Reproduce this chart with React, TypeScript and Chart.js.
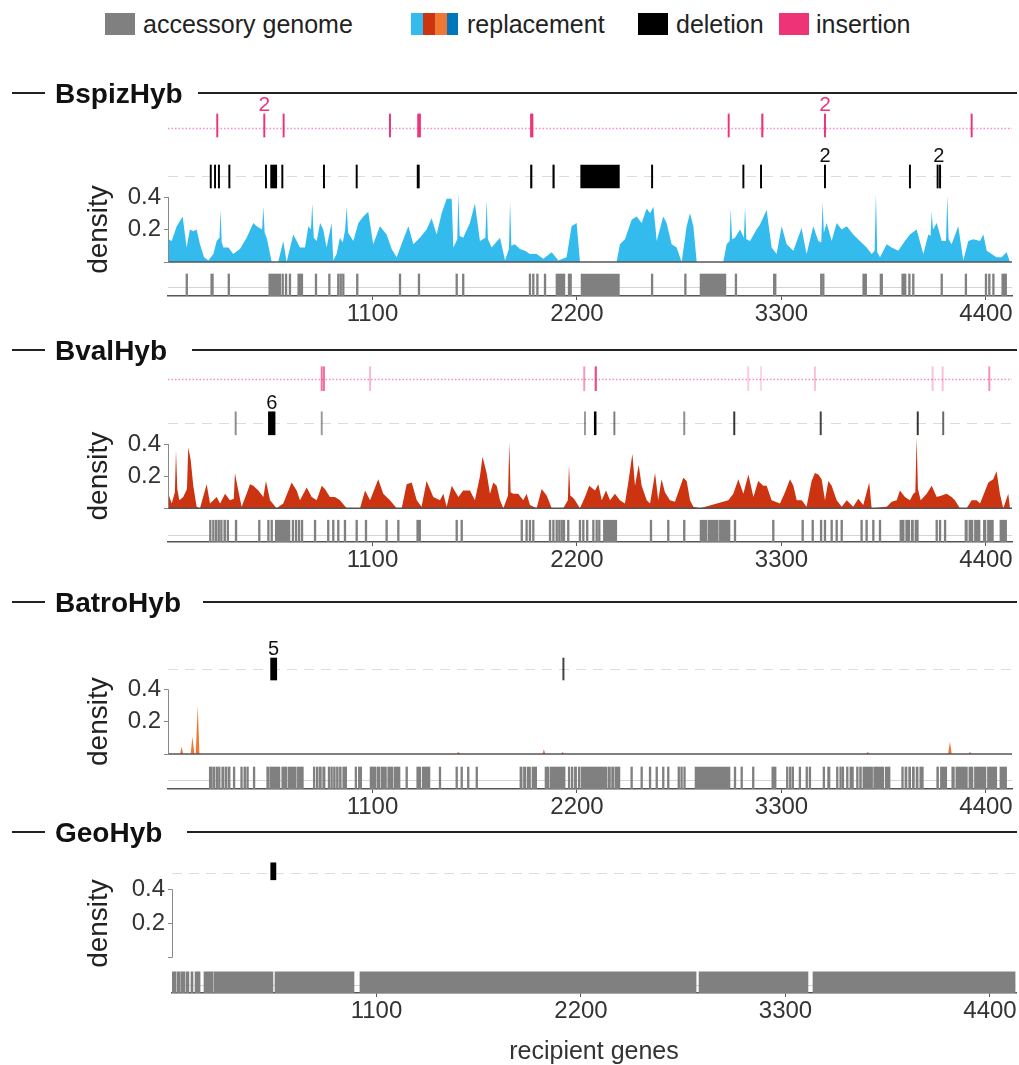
import React, { useEffect, useRef } from "react";
import { Chart, registerables } from "chart.js";

Chart.register(...registerables);

const FONT = "'Liberation Sans', Arial, Helvetica, sans-serif";
const X_MAX = 4540;
const xTickValues = [1100, 2200, 3300, 4400];
const densityTickValues = [0, 0.2, 0.4];

type Interval = [number, number];

// ---------------- BspizHyb ----------------
const bspizDensityGenes = [
  2,20,47,79,100,118,136,154,172,194,
  217,244,262,277,283,289,298,325,351,387,
  423,459,477,506,513,520,531,558,593,620,
  638,674,710,737,755,769,776,784,800,818,
  835,853,880,889,907,925,940,953,961,969,
  997,1024,1051,1077,1104,1140,1176,1203,1230,1266,
  1293,1320,1355,1391,1418,1445,1472,1499,1526,1535,
  1556,1562,1569,1588,1624,1651,1678,1707,1714,1721,
  1741,1786,1813,1834,1840,1847,1866,1893,1920,1947,
  1983,2019,2064,2100,2144,2171,2198,2216,2413,2431,
  2458,2494,2521,2548,2575,2593,2611,2629,2664,2682,
  2709,2736,2763,2790,2808,2826,2844,2987,3005,3021,
  3027,3034,3050,3077,3098,3104,3111,3131,3166,3184,
  3220,3247,3274,3301,3328,3364,3408,3435,3471,3498,
  3514,3521,3528,3543,3570,3597,3624,3651,3686,3722,
  3758,3785,3801,3808,3815,3830,3866,3893,3928,3964,
  3991,4027,4063,4090,4102,4108,4115,4135,4162,4185,
  4192,4199,4215,4251,4278,4305,4332,4368,4386,4404,
  4430,4457,4484,4511,4529,
];
const bspizDensity = [
  0.14,0.13,0.22,0.28,0.09,0.2,0.19,0.2,0.11,0.03,
  0.01,0.05,0.13,0.15,0.32,0.12,0.09,0.09,0.05,0.08,
  0.15,0.24,0.22,0.2,0.34,0.18,0.15,0,0,0.13,
  0,0.17,0.09,0.09,0.22,0.2,0.36,0.15,0.13,0.24,
  0.2,0.09,0.24,0.01,0.05,0.15,0.12,0.2,0.34,0.18,
  0.13,0.24,0.28,0.31,0.11,0.22,0.17,0.08,0.03,0.14,
  0.22,0.11,0.15,0.2,0.27,0.17,0.3,0.39,0.39,0.09,
  0.14,0.42,0.16,0.15,0.24,0.36,0.13,0.15,0.38,0.14,
  0.09,0.15,0.01,0.08,0.37,0.1,0.11,0.08,0.07,0.05,
  0.05,0.02,0.06,0.01,0.03,0.22,0.24,0,0,0.11,
  0.14,0.26,0.28,0.24,0.33,0.3,0.34,0.13,0.28,0.24,
  0.11,0.09,0,0.22,0.3,0.22,0,0,0.11,0.13,
  0.33,0.14,0.15,0.2,0.15,0.34,0.14,0.13,0.2,0.23,
  0.32,0.09,0.05,0.22,0.11,0.07,0.21,0.05,0.22,0.13,
  0.12,0.37,0.18,0.24,0.13,0.24,0.2,0.22,0.17,0.13,
  0.09,0.05,0.07,0.42,0.06,0.03,0.11,0.09,0.07,0.13,
  0.17,0.2,0.05,0.17,0.16,0.31,0.2,0.24,0.13,0.13,
  0.41,0.14,0.11,0.22,0.01,0.13,0.14,0.13,0.17,0.07,
  0.05,0.03,0.03,0.06,0,
];
const bspizInsertions: Interval[] = [[265,265],[518,518],[622,622],[1194,1194],[1346,1346],[1355,1355],[1953,1953],[1960,1960],[3016,3016],[3193,3201],[3534,3534],[4323,4323]];
const bspizInsertionLabels = [{ gene: 518, text: "2" }, { gene: 3534, text: "2" }];
const bspizDeletions: Interval[] = [[230,230],[253,253],[274,274],[330,330],[527,527],[552,585],[615,615],[839,839],[1015,1015],[1340,1352],[1950,1958],[2070,2078],[2220,2428],[2604,2604],[3095,3095],[3190,3190],[3534,3534],[3991,3991],[4140,4140],[4153,4153]];
const bspizDeletionLabels = [{ gene: 3534, text: "2" }, { gene: 4146, text: "2" }];
const bspizAccessory: Interval[] = [[101,101],[230,244],[327,327],[542,606],[617,617],[635,635],[656,656],[698,725],[796,796],[868,868],[916,916],[929,929],[943,943],[1018,1018],[1248,1248],[1350,1350],[1553,1553],[1588,1588],[1947,1947],[1965,1965],[1987,1987],[2028,2028],[2087,2135],[2157,2157],[2166,2166],[2222,2428],[2604,2604],[2783,2783],[2862,3001],[3055,3055],[3256,3271],[3514,3514],[3525,3525],[3737,3758],[3830,3844],[3947,3970],[3988,3988],[4009,4009],[4162,4162],[4292,4292],[4400,4400],[4418,4418],[4440,4440],[4485,4511]];

// ---------------- BvalHyb ----------------
const bvalDensityGenes = [
  0,2,20,37,43,50,61,82,102,109,
  122,136,154,172,208,226,244,262,280,307,
  333,354,360,373,396,423,441,459,486,513,
  527,549,584,620,665,692,710,746,773,800,
  827,844,871,898,925,961,997,1033,1060,1087,
  1131,1158,1194,1230,1257,1284,1311,1338,1364,1391,
  1427,1463,1481,1499,1526,1562,1588,1624,1651,1678,
  1692,1714,1732,1750,1768,1786,1804,1829,1836,1843,
  1857,1884,1911,1929,1947,1983,2010,2037,2064,2126,
  2151,2157,2164,2184,2216,2243,2266,2297,2315,2333,
  2356,2378,2404,2431,2458,2476,2498,2512,2532,2548,
  2575,2593,2620,2637,2655,2673,2700,2727,2772,2790,
  2808,2826,2862,3014,3041,3068,3095,3122,3149,3175,
  3202,3220,3247,3292,3319,3346,3364,3382,3409,3435,
  3462,3480,3498,3516,3534,3552,3570,3597,3624,3651,
  3686,3713,3740,3772,3785,3866,3893,3920,3937,3964,
  3991,4009,4020,4027,4034,4049,4081,4108,4135,4162,
  4188,4215,4233,4260,4296,4323,4350,4368,4413,4439,
  4457,4475,4493,4520,4529,
];
const bvalDensity = [
  0.04,0.09,0.03,0.1,0.36,0.12,0.05,0.07,0.12,0.38,
  0.3,0.14,0.01,0,0.15,0.03,0.05,0.07,0.03,0.09,
  0.05,0.06,0.22,0.14,0.01,0.09,0.15,0.14,0.11,0.07,
  0.17,0.05,0,0.03,0.16,0.11,0.05,0.13,0.07,0.05,
  0.14,0.12,0.07,0.07,0.05,0,0,0,0.11,0.05,
  0.18,0.09,0.05,0,0,0.15,0.16,0.05,0.01,0.17,
  0.07,0.05,0.09,0.01,0.14,0.07,0.11,0.11,0.05,0.2,
  0.32,0.22,0.09,0.16,0.14,0.05,0,0.08,0.41,0.1,
  0.09,0.09,0.05,0.09,0.02,0,0.12,0.08,0,0,
  0.05,0.27,0.08,0.06,0,0.07,0.14,0.11,0.15,0.05,
  0.11,0.05,0.09,0.05,0.03,0.16,0.34,0.14,0.27,0.14,
  0.05,0.03,0.22,0.05,0.18,0.1,0.05,0.04,0.19,0.17,
  0.05,0.01,0,0.05,0.09,0.18,0.09,0.21,0.07,0.17,
  0.14,0.14,0.05,0.03,0.1,0.18,0.14,0.05,0.05,0.01,
  0.17,0.22,0.21,0.18,0.05,0.17,0.14,0.05,0.01,0.05,
  0.01,0.06,0.02,0.16,0,0.01,0.04,0.05,0.11,0.07,
  0.05,0.09,0.1,0.44,0.12,0.05,0.09,0.14,0.07,0.08,
  0.09,0.07,0.05,0,0,0.05,0.05,0.03,0.16,0.18,
  0.23,0.09,0,0.09,0,
];
const bvalInsertions: Interval[] = [[827,827],[839,839],[1087,1087],[2239,2239],[2297,2305],[3121,3121],[3190,3190],[3480,3480],[4113,4113],[4167,4167],[4418,4418]];
const bvalInsertionAlpha = [0.7,0.7,0.35,0.5,0.9,0.25,0.2,0.3,0.3,0.3,0.55];
const bvalDeletions: Interval[] = [[364,364],[540,576],[827,827],[2243,2243],[2293,2303],[2401,2401],[2777,2777],[3046,3046],[3511,3511],[4033,4033],[4170,4170]];
const bvalDeletionAlpha = [0.45,1,0.4,0.4,1,0.5,0.45,0.8,0.75,0.8,0.6];
const bvalDeletionLabels = [{ gene: 558, text: "6" }];
const bvalAccessory: Interval[] = [[223,232],[240,248],[256,262],[270,276],[284,290],[300,310],[318,326],[366,366],[491,491],[540,540],[558,558],[577,656],[672,672],[689,689],[705,705],[721,721],[791,791],[862,862],[889,889],[916,916],[952,952],[1015,1015],[1065,1065],[1176,1176],[1239,1239],[1338,1359],[1553,1553],[1580,1580],[1903,1903],[1929,1929],[1947,1947],[1965,1965],[2055,2055],[2073,2073],[2091,2091],[2105,2105],[2118,2118],[2130,2130],[2153,2153],[2216,2216],[2234,2234],[2255,2255],[2288,2288],[2306,2306],[2320,2320],[2342,2414],[2598,2598],[2691,2691],[2777,2777],[2862,2900],[2906,2960],[2966,3023],[3050,3050],[3256,3256],[3414,3414],[3468,3468],[3513,3513],[3534,3534],[3570,3570],[3597,3597],[3624,3624],[3731,3731],[3758,3758],[3794,3794],[3830,3830],[3937,3960],[3968,3990],[3998,4010],[4018,4036],[4135,4135],[4153,4153],[4180,4180],[4287,4300],[4308,4330],[4338,4368],[4386,4400],[4408,4440],[4475,4511]];

// ---------------- BatroHyb ----------------
const batroDensityGenes = [0,65,73,82,122,131,142,149,160,169,1553,1561,1571,2014,2022,2030,2115,2123,2131,3756,3764,3772,4196,4206,4216,4306,4314,4322,4540];
const batroDensity = [0,0,0.045,0,0,0.107,0,0,0.297,0,0,0.014,0,0,0.029,0,0,0.014,0,0,0.014,0,0,0.076,0,0,0.014,0,0];
const batroDeletions: Interval[] = [[552,585],[2127,2127]];
const batroDeletionAlpha = [1, 0.75];
const batroDeletionLabels = [{ gene: 568, text: "5" }];
const batroAccessory: Interval[] = [[222,235],[240,252],[258,268],[272,280],[289,300],[306,318],[324,334],[351,360],[391,400],[408,418],[424,432],[463,463],[531,545],[550,602],[612,640],[646,690],[696,728],[782,790],[798,808],[814,825],[832,845],[862,870],[876,884],[890,900],[906,916],[922,932],[940,961],[1006,1015],[1024,1042],[1087,1120],[1126,1140],[1146,1175],[1182,1210],[1216,1248],[1284,1284],[1338,1360],[1368,1409],[1463,1463],[1553,1553],[1580,1580],[1615,1615],[1661,1661],[1893,1905],[1912,1925],[1932,1950],[1958,1983],[2028,2050],[2056,2136],[2153,2162],[2170,2178],[2186,2198],[2207,2216],[2222,2360],[2366,2380],[2386,2400],[2406,2431],[2494,2494],[2548,2548],[2593,2593],[2629,2629],[2664,2664],[2691,2691],[2745,2750],[2760,2765],[2776,2781],[2835,3023],[3050,3050],[3086,3086],[3148,3148],[3248,3271],[3328,3334],[3344,3350],[3358,3364],[3399,3399],[3436,3436],[3453,3453],[3525,3531],[3548,3561],[3597,3603],[3615,3621],[3628,3633],[3651,3657],[3668,3687],[3704,3712],[3720,3730],[3738,3790],[3796,3850],[3858,3884],[3947,3955],[3964,3975],[3984,3995],[4004,4015],[4024,4035],[4044,4063],[4135,4145],[4155,4189],[4216,4230],[4238,4300],[4308,4330],[4338,4400],[4408,4458],[4475,4511]];

// ---------------- GeoHyb ----------------
const geoDensityGenes: number[] = [];
const geoDensity: number[] = [];
const geoDeletions: Interval[] = [[531,559]];
const geoDeletionLabels: { gene: number; text: string }[] = [];
const geoAccessory: Interval[] = [[0,20],[26,45],[50,70],[76,91],[102,113],[124,151],[172,221],[226,543],[554,979],[1011,2819],[2835,3421],[3448,4535]];

// ---------------- styles ----------------
type Kind = "ins" | "del" | "acc";
const TRACK_STYLE: Record<Kind, any> = {
  ins: { rgb: "238,51,119", minGenes: 7, guide: { color: "#f38ccf", width: 1.3, dash: [1.5, 2] }, labelColor: "#EE3377", labelSize: 21 },
  del: { rgb: "0,0,0", minGenes: 7, guide: { color: "#dcdcdc", width: 1, dash: [10, 7] }, labelColor: "#111", labelSize: 20 },
  acc: { rgb: "128,128,128", minGenes: 9, guide: { color: "#d4d4d4", width: 1, dash: [] }, labelColor: "#111", labelSize: 20 },
};

type Track = { kind: Kind; c: number; h: number; line: number; intervals: Interval[]; alphas?: number[]; labels?: { gene: number; text: string }[] };
type PanelSpec = {
  name: string; top: number; bottom: number; title: number; ruleStart: number; chartTop: number; axis: number;
  y0: number; y04: number; left: number; right: number; color: string;
  densityGenes: number[]; density: number[]; tracks: Track[]; xTitle?: { text: string; y: number };
};

const PANELS: PanelSpec[] = [
  {
    name: "BspizHyb", top: 60, bottom: 330, title: 93, ruleStart: 198, chartTop: 108, axis: 296, y0: 262, y04: 197, left: 168, right: 1012, color: "#33BBEE",
    densityGenes: bspizDensityGenes, density: bspizDensity,
    tracks: [
      { kind: "ins", c: 125.5, h: 23, line: 128, intervals: bspizInsertions, labels: bspizInsertionLabels },
      { kind: "del", c: 176.5, h: 23, line: 176, intervals: bspizDeletions, labels: bspizDeletionLabels },
      { kind: "acc", c: 285, h: 22, line: 287, intervals: bspizAccessory },
    ],
  },
  {
    name: "BvalHyb", top: 330, bottom: 578, title: 350, ruleStart: 192, chartTop: 360, axis: 542, y0: 508.3, y04: 444, left: 168, right: 1012, color: "#CC3311",
    densityGenes: bvalDensityGenes, density: bvalDensity,
    tracks: [
      { kind: "ins", c: 378.7, h: 24, line: 379, intervals: bvalInsertions, alphas: bvalInsertionAlpha },
      { kind: "del", c: 423.3, h: 23, line: 423.3, intervals: bvalDeletions, alphas: bvalDeletionAlpha, labels: bvalDeletionLabels },
      { kind: "acc", c: 531.2, h: 22, line: 535, intervals: bvalAccessory },
    ],
  },
  {
    name: "BatroHyb", top: 578, bottom: 818, title: 602, ruleStart: 203, chartTop: 628, axis: 789, y0: 754, y04: 689.3, left: 168, right: 1012, color: "#EE7733",
    densityGenes: batroDensityGenes, density: batroDensity,
    tracks: [
      { kind: "del", c: 669, h: 22, line: 669, intervals: batroDeletions, alphas: batroDeletionAlpha, labels: batroDeletionLabels },
      { kind: "acc", c: 778, h: 22, line: 780, intervals: batroAccessory },
    ],
  },
  {
    name: "GeoHyb", top: 818, bottom: 1065, title: 832, ruleStart: 187, chartTop: 850, axis: 993, y0: 957.7, y04: 889.3, left: 172, right: 1016, color: "#0077BB",
    densityGenes: geoDensityGenes, density: geoDensity,
    tracks: [
      { kind: "del", c: 871.3, h: 17, line: 873.3, intervals: geoDeletions, labels: geoDeletionLabels },
      { kind: "acc", c: 982.3, h: 21, line: 985, intervals: geoAccessory },
    ],
    xTitle: { text: "recipient genes", y: 1052 },
  },
];

function Panel({ spec }: { spec: PanelSpec }) {
  const ref = useRef<HTMLCanvasElement | null>(null);
  const H = spec.bottom - spec.top;

  useEffect(() => {
    const canvas = ref.current;
    if (!canvas) return;
    const k = (spec.y0 - spec.y04) / 0.4;
    const val = (px: number) => (spec.y0 - px) / k;

    const datasets: any[] = [];
    if (spec.densityGenes.length) {
      datasets.push({
        type: "line",
        data: spec.densityGenes.map((g, i) => ({ x: g, y: spec.density[i] })),
        fill: "origin",
        backgroundColor: spec.color,
        borderWidth: 0,
        pointRadius: 0,
        tension: 0,
        order: 10,
      });
    }
    for (const tr of spec.tracks) {
      const st = TRACK_STYLE[tr.kind];
      const c = val(tr.c);
      datasets.push({
        type: "bar",
        indexAxis: "y",
        grouped: false,
        barThickness: tr.h,
        maxBarThickness: tr.h,
        data: tr.intervals.map(([s, e], i) => {
          const pad = Math.max(0, (st.minGenes - (e - s)) / 2);
          return { x: [s - pad, e + pad], y: c, a: tr.alphas ? tr.alphas[i] : 1 };
        }),
        backgroundColor: (ctx: any) => `rgba(${st.rgb},${ctx.raw && ctx.raw.a != null ? ctx.raw.a : 1})`,
        borderWidth: 0,
        order: 1,
      });
    }

    const plugin = {
      id: "decor",
      beforeDatasetsDraw(chart: any) {
        const { ctx, chartArea: ca } = chart;
        const ys = chart.scales.y;
        ctx.save();
        for (const tr of spec.tracks) {
          const g = TRACK_STYLE[tr.kind].guide;
          const py = Math.round(ys.getPixelForValue(val(tr.line))) + 0.5;
          ctx.beginPath();
          ctx.strokeStyle = g.color;
          ctx.lineWidth = g.width;
          ctx.setLineDash(g.dash);
          ctx.moveTo(ca.left, py);
          ctx.lineTo(ca.right, py);
          ctx.stroke();
        }
        ctx.restore();
      },
      afterDatasetsDraw(chart: any) {
        const { ctx, chartArea: ca } = chart;
        const ys = chart.scales.y;
        const p0 = ys.getPixelForValue(0);
        const p4 = ys.getPixelForValue(0.4);
        ctx.save();
        if (spec.densityGenes.length) {
          ctx.beginPath();
          ctx.strokeStyle = "#555";
          ctx.lineWidth = 1.5;
          ctx.moveTo(ca.left, p0);
          ctx.lineTo(ca.right, p0);
          ctx.stroke();
        }
        ctx.beginPath();
        ctx.strokeStyle = "#888";
        ctx.lineWidth = 1;
        ctx.moveTo(ca.left + 0.5, p0);
        ctx.lineTo(ca.left + 0.5, p4);
        ctx.stroke();
        ctx.restore();
      },
      afterDraw(chart: any) {
        const { ctx, chartArea: ca } = chart;
        const xs = chart.scales.x;
        const ys = chart.scales.y;
        const p0 = ys.getPixelForValue(0);
        const p4 = ys.getPixelForValue(0.4);
        ctx.save();
        const ty = spec.title - spec.top;
        ctx.font = `bold 28px ${FONT}`;
        ctx.fillStyle = "#111";
        ctx.textAlign = "left";
        ctx.textBaseline = "alphabetic";
        ctx.fillText(spec.name, 55, ty + 10);
        ctx.strokeStyle = "#222";
        ctx.lineWidth = 2;
        ctx.beginPath();
        ctx.moveTo(12, ty);
        ctx.lineTo(45, ty);
        ctx.moveTo(spec.ruleStart, ty);
        ctx.lineTo(1017, ty);
        ctx.stroke();
        ctx.save();
        ctx.translate(99, (p0 + p4) / 2);
        ctx.rotate(-Math.PI / 2);
        ctx.font = `28px ${FONT}`;
        ctx.textAlign = "center";
        ctx.textBaseline = "middle";
        ctx.fillStyle = "#222";
        ctx.fillText("density", 0, 0);
        ctx.restore();
        for (const tr of spec.tracks) {
          if (!tr.labels) continue;
          const st = TRACK_STYLE[tr.kind];
          const top = ys.getPixelForValue(val(tr.c)) - tr.h / 2;
          ctx.font = `${st.labelSize}px ${FONT}`;
          ctx.fillStyle = st.labelColor;
          ctx.textAlign = "center";
          ctx.textBaseline = "alphabetic";
          for (const lab of tr.labels) {
            ctx.fillText(lab.text, xs.getPixelForValue(lab.gene), top - 3);
          }
        }
        if (spec.xTitle) {
          ctx.font = `25px ${FONT}`;
          ctx.fillStyle = "#333";
          ctx.textAlign = "center";
          ctx.textBaseline = "middle";
          ctx.fillText(spec.xTitle.text, (ca.left + ca.right) / 2, spec.xTitle.y - spec.top);
        }
        ctx.restore();
      },
    };

    const chart = new Chart(canvas, {
      type: "line",
      data: { datasets },
      options: {
        responsive: false,
        animation: false,
        devicePixelRatio: 1,
        events: [],
        layout: { padding: { top: spec.chartTop - spec.top, left: 0, right: 1019 - spec.right, bottom: 0 } },
        plugins: { legend: { display: false }, tooltip: { enabled: false } },
        scales: {
          x: {
            type: "linear",
            position: "bottom",
            offset: false,
            min: 0,
            max: X_MAX,
            afterBuildTicks: (s: any) => { s.ticks = xTickValues.map((v) => ({ value: v })); },
            afterFit: (s: any) => { s.height = spec.bottom - spec.axis; },
            ticks: { callback: (v: any) => String(v), font: { family: FONT, size: 24 }, color: "#333", padding: 0, maxRotation: 0, autoSkip: false },
            grid: { display: true, offset: false, drawOnChartArea: false, drawTicks: true, tickLength: 4, color: "#555" },
            border: { display: true, color: "#555", width: 1.5 },
          },
          y: {
            type: "linear",
            position: "left",
            offset: false,
            min: val(spec.axis),
            max: val(spec.chartTop),
            afterBuildTicks: (s: any) => { s.ticks = densityTickValues.map((v) => ({ value: v })); },
            afterFit: (s: any) => { s.width = spec.left; },
            ticks: { callback: (v: any) => (v === 0 ? "" : Number(v).toFixed(1)), font: { family: FONT, size: 24 }, color: "#333", padding: 3, autoSkip: false },
            grid: { display: true, offset: false, drawOnChartArea: false, drawTicks: true, tickLength: 4, color: "#888" },
            border: { display: false },
          },
        },
      } as any,
      plugins: [plugin],
    } as any);
    return () => chart.destroy();
  }, [spec]);

  return (
    <canvas
      ref={ref}
      width={1019}
      height={H}
      style={{ position: "absolute", left: 0, top: spec.top, width: 1019, height: H, display: "block" }}
    />
  );
}

const legendText: React.CSSProperties = {
  position: "absolute", top: 12, fontSize: 25, lineHeight: "25px", fontFamily: FONT, color: "#222", whiteSpace: "nowrap",
};
const sq = (left: number, width: number, color: string): React.CSSProperties => ({
  position: "absolute", left, top: 13, width, height: 22, background: color,
});

export default function App() {
  useEffect(() => {
    document.body.style.margin = "0";
  }, []);
  return (
    <div style={{ position: "absolute", left: 0, top: 0, width: 1019, height: 1065, background: "#fff", overflow: "hidden" }}>
      <div style={sq(105, 30, "#808080")} />
      <span style={{ ...legendText, left: 143 }}>accessory genome</span>
      <div style={sq(411, 12, "#33BBEE")} />
      <div style={sq(423, 12, "#CC3311")} />
      <div style={sq(435, 12, "#EE7733")} />
      <div style={sq(447, 11, "#0077BB")} />
      <span style={{ ...legendText, left: 467 }}>replacement</span>
      <div style={sq(638, 30, "#000000")} />
      <span style={{ ...legendText, left: 676 }}>deletion</span>
      <div style={sq(779, 30, "#EE3377")} />
      <span style={{ ...legendText, left: 816 }}>insertion</span>
      {PANELS.map((p) => (
        <Panel key={p.name} spec={p} />
      ))}
    </div>
  );
}
